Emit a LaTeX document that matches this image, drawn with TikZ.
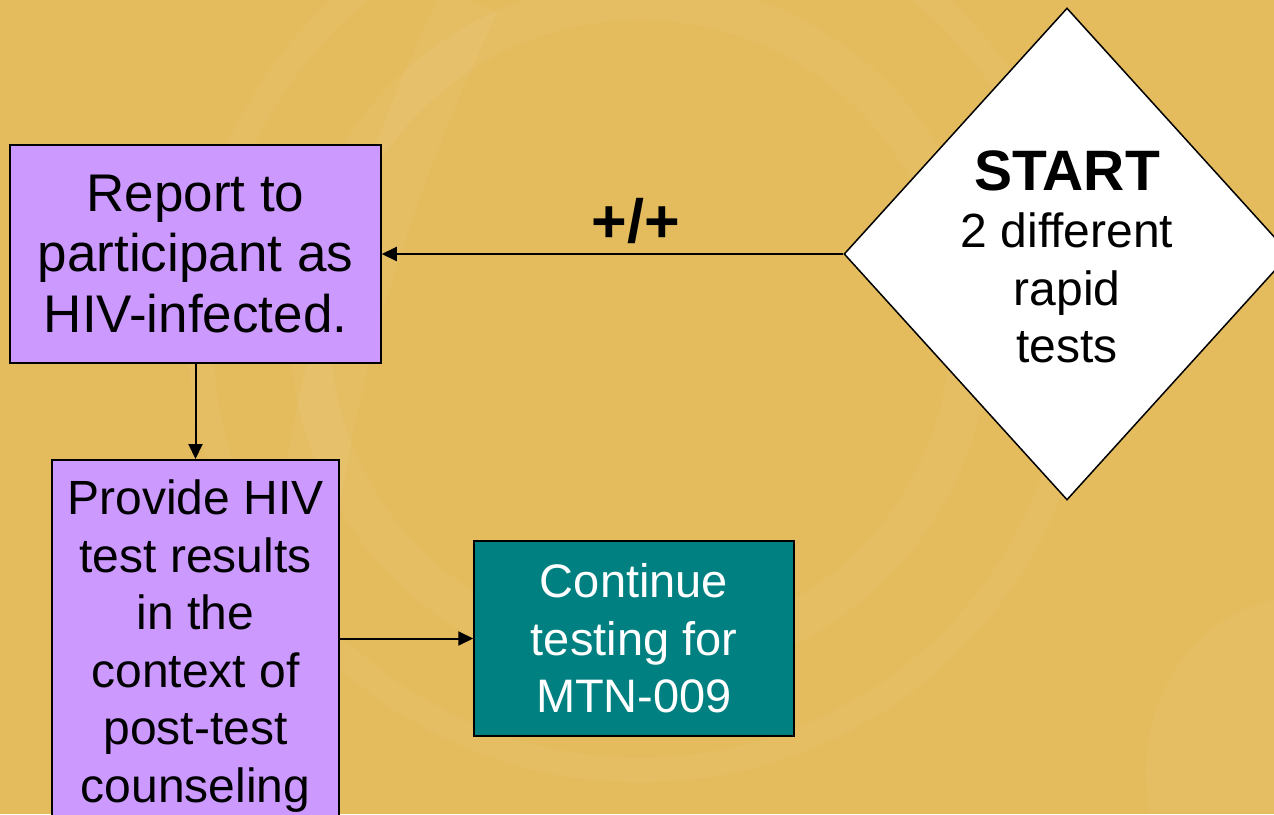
\documentclass[tikz,border=0pt]{standalone}
\usepackage{fontspec}
\setmainfont{Liberation Sans}
\usetikzlibrary{arrows.meta,shapes.geometric}
\definecolor{bg}{HTML}{E4BC5E}
\definecolor{boxpurple}{HTML}{CC99FF}
\definecolor{boxteal}{HTML}{008080}
\begin{document}
\begin{tikzpicture}[x=1pt,y=-1pt,
  box/.style={draw=black,line width=1.5pt,fill=boxpurple,align=center,inner sep=0pt,
    font=\fontsize{47}{57.5}\selectfont},
  txt/.style={font=\fontsize{48}{57.5}\selectfont,align=center,inner sep=0pt},
  conn/.style={draw=black,line width=2pt,-{Triangle[length=15pt,width=14pt]}},
  swirl/.style={draw=white,draw opacity=0.045}]
\useasboundingbox (0,0) rectangle (1274,814);
\clip (0,0) rectangle (1274,814);
% background
\fill[bg] (0,0) rectangle (1274,814);
\draw[swirl,line width=40pt] (640,330) circle[radius=330pt];
\draw[swirl,line width=25pt] (640,330) circle[radius=440pt];
\draw[swirl,line width=60pt] (470,0) .. controls (330,300) and (280,550) .. (300,814);
\fill[white,opacity=0.04] (1274,600) .. controls (1180,620) and (1130,720) .. (1150,814) -- (1274,814) -- cycle;
% nodes
\node[box, minimum width=371pt, minimum height=218pt, font=\fontsize{53}{60.5}\selectfont] (b1) at (195.5,254)
  {Report to\\participant as\\HIV-infected.};
\node[box, minimum width=287pt, minimum height=381pt, anchor=north] (b2) at (195.5,459) {};
\node[txt, anchor=north] (t2) at (195.5,480)
  {Provide HIV\\test results\\in the\\context of\\post-test\\counseling};
\node[box, fill=boxteal, text=white, minimum width=320pt, minimum height=195pt] (b3) at (634,638.5)
  {Continue\\testing for\\MTN-009};
\node[diamond, draw=black, line width=1.5pt, fill=white, minimum width=446pt, minimum height=492pt,
  inner sep=0pt, aspect=0.906] (start) at (1067,254) {};
\node[txt, anchor=north] (st) at (1067,150)
  {{\fontsize{57}{58}\selectfont\bfseries START}\\2 different\\rapid\\tests};
% connectors
\draw[conn] (start.west) -- (b1.east);
\node[inner sep=0pt, font=\fontsize{61}{64}\selectfont\bfseries] (pp) at (636,221) {+/+};
\draw[conn] (b1.south) -- (b2.north);
\draw[conn] (b2.east |- b3.west) -- (b3.west);
\end{tikzpicture}
\end{document}
